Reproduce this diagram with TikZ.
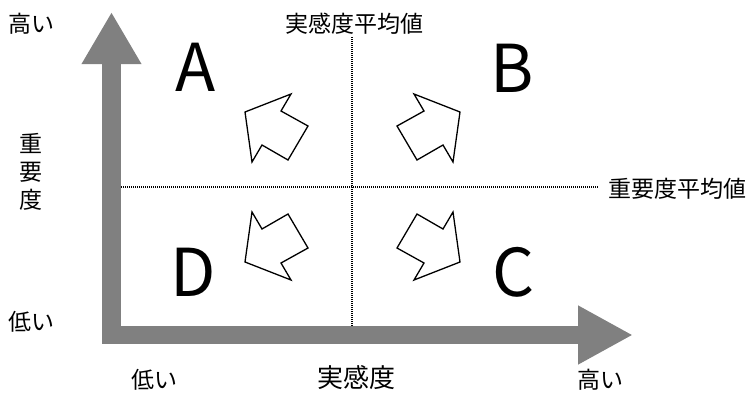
\documentclass[tikz,border=0pt]{standalone}
\usepackage{fontspec}
\setmainfont{Noto Sans CJK JP}
\usetikzlibrary{arrows.meta}

\begin{document}
\begin{tikzpicture}[x=1pt, y=-1pt,
  axis/.style={line width=18.5pt, color={rgb,255:red,128;green,128;blue,128}},
  avgline/.style={line width=2pt, dash pattern=on 1pt off 1pt},
  blockarrow/.style={draw, line width=1.3pt, fill=white, line join=miter},
  label/.style={inner sep=0pt, font=\fontsize{23}{28}\selectfont},
  letter/.style={inner sep=0pt, font=\fontsize{66}{66}\selectfont}]
  \useasboundingbox (0,0) rectangle (750,392);

  % axes
  \coordinate (o) at (111.5,335);
  \coordinate (ytip) at (111.5,12);
  \coordinate (xtip) at (633,335);
  \draw[axis, line cap=rect, -{Triangle[width=56pt,length=52pt]}] (o) -- (ytip);
  \draw[axis, line cap=rect, -{Triangle[width=55pt,length=55pt]}] (o) -- (xtip);

  % average lines
  \coordinate (vtop) at (352,37);
  \coordinate (vbot) at (352,326);
  \coordinate (hleft) at (121,187);
  \coordinate (hright) at (598,187);
  \draw[avgline] (vtop) -- (vbot);
  \draw[avgline] (hleft) -- (hright);

  % quadrant arrows
  \draw[blockarrow] (245,112) -- (291,94) -- (281,111) -- (308,126) -- (288,160) -- (262,145) -- (252,162) -- cycle;
  \draw[blockarrow] (460,112) -- (414,94) -- (424,111) -- (397,126) -- (417,160) -- (443,145) -- (453,162) -- cycle;
  \draw[blockarrow] (245,262) -- (291,280) -- (281,263) -- (308,248) -- (288,214) -- (262,229) -- (252,212) -- cycle;
  \draw[blockarrow] (460,262) -- (414,280) -- (424,263) -- (397,248) -- (417,214) -- (443,229) -- (453,212) -- cycle;

  % quadrant letters
  \node[letter] (qa) at (196,67) {A};
  \node[letter] (qb) at (512,68) {B};
  \node[letter] (qc) at (514,272) {C};
  \node[letter] (qd) at (193,272) {D};

  % labels
  \node[label] (yhigh) at (32,24) {高い};
  \node[label] (ylow) at (32,322) {低い};
  \node[label, align=center] (ytitle) at (31,172) {重\\要\\度};
  \node[label] (xlow) at (154,380) {低い};
  \node[label] (xhigh) at (600,380) {高い};
  \node[label, font=\fontsize{26}{30}\selectfont] (xtitle) at (356,378) {実感度};
  \node[label] (xavg) at (354,24) {実感度平均値};
  \node[label] (yavg) at (677,189) {重要度平均値};
\end{tikzpicture}
\end{document}
